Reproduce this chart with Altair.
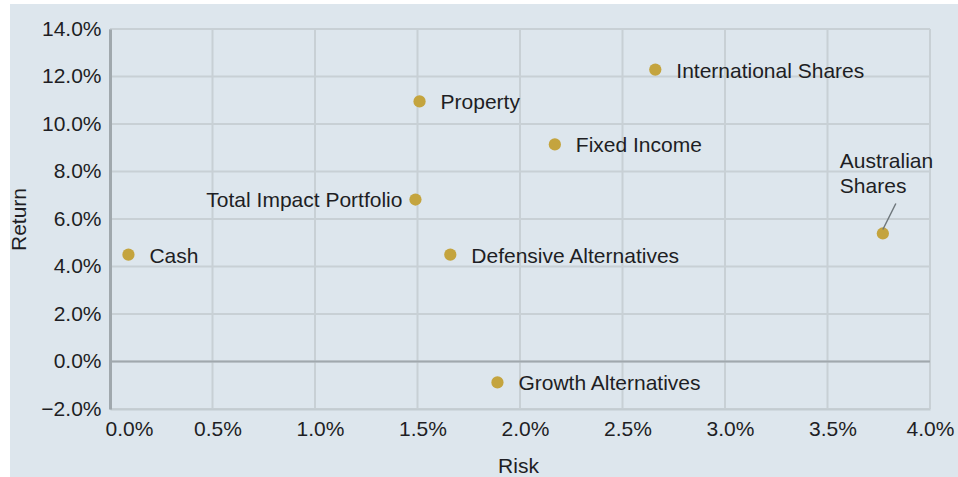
import altair as alt
import pandas as pd

# Data
names = ["Cash", "Total Impact Portfolio", "Property", "Defensive  Alternatives",
         "Growth Alternatives", "Fixed Income", "International Shares", "Australian Shares"]
risk = [0.0009, 0.0149, 0.0151, 0.0166, 0.0189, 0.0217, 0.0266, 0.0377]
ret = [0.045, 0.0682, 0.1095, 0.045, -0.0088, 0.0914, 0.1229, 0.0539]

x_ticks = [0.0, 0.005, 0.01, 0.015, 0.02, 0.025, 0.03, 0.035, 0.04]
y_ticks = [-0.02, 0.0, 0.02, 0.04, 0.06, 0.08, 0.10, 0.12, 0.14]

left_labelled = ["Total Impact Portfolio"]
two_line_labelled = ["Australian Shares"]

df = pd.DataFrame({"name": names, "risk": risk, "ret": ret})
xg = pd.DataFrame({"risk": x_ticks})
yg = pd.DataFrame({"ret": y_ticks})
one = pd.DataFrame({"k": [0]})

FONT = "Liberation Sans"
TXT = "#1e1e24"
DOT = "#c4a43e"
GRID = "#c8d0d5"

x_scale = alt.Scale(domain=[0, 0.04], nice=False, zero=False)
y_scale = alt.Scale(domain=[-0.02, 0.14], nice=False, zero=False)

x_axis = alt.Axis(
    values=x_ticks, format=".1%", title="Risk",
    labelFlush=False, labelOverlap=False, grid=False, zindex=2,
    labelOffset={"condition": [
        {"test": "datum.value == 0", "value": 19},
        {"test": "datum.value >= 0.0399", "value": 0}], "value": 5},
    titleX=408, titleY=57, titleBaseline="middle",
    domainColor="#c3ccd1", domainWidth=2,
)
y_axis = alt.Axis(
    values=y_ticks, format=".1%", title="Return",
    labelFlush=False, labelOverlap=False, grid=False, zindex=2,
    titleX=-91, titleY=190, titleBaseline="middle", titleAngle=-90,
    domainColor="#a0a8ad", domainWidth=3,
)

x_enc = alt.X("risk:Q", scale=x_scale, axis=x_axis)
y_enc = alt.Y("ret:Q", scale=y_scale, axis=y_axis)

# panel background (leaves the thin white page margin at left and top)
panel = alt.Chart(one).mark_rect(color="#dde6ed").encode(
    x=alt.value(-100), x2=alt.value(900), y=alt.value(-25), y2=alt.value(500)
)

vgrid = alt.Chart(xg).mark_rule(color=GRID, strokeWidth=2).encode(x=x_enc)
hgrid = alt.Chart(yg).mark_rule(color=GRID, strokeWidth=2).encode(y=y_enc)

zero = alt.Chart(one).mark_rule(color="#a0a8ad", strokeWidth=2).encode(
    y=alt.Y(datum=0, type="quantitative", scale=y_scale, axis=y_axis),
)

base = alt.Chart(df)

points = base.mark_circle(size=150, color=DOT, opacity=1).encode(x=x_enc, y=y_enc)

leader = base.transform_filter(
    alt.FieldOneOfPredicate(field="name", oneOf=two_line_labelled)
).mark_rule(color="#6f777c", strokeWidth=1.5, yOffset=-4, x2Offset=13, y2Offset=-30).encode(
    x=x_enc, y=y_enc, x2="risk:Q", y2="ret:Q"
)

right_text = base.transform_filter(
    ~alt.FieldOneOfPredicate(field="name", oneOf=left_labelled + two_line_labelled)
).mark_text(align="left", baseline="middle", dx=21, dy=2, font=FONT, fontSize=21, color=TXT).encode(
    x=x_enc, y=y_enc, text="name:N"
)

left_text = base.transform_filter(
    alt.FieldOneOfPredicate(field="name", oneOf=left_labelled)
).mark_text(align="right", baseline="middle", dx=-13, dy=1, font=FONT, fontSize=21, color=TXT).encode(
    x=x_enc, y=y_enc, text="name:N"
)

aus_text = base.transform_filter(
    alt.FieldOneOfPredicate(field="name", oneOf=two_line_labelled)
).transform_calculate(
    label="replace(datum.name, ' ', '\\n')"
).mark_text(align="left", baseline="alphabetic", dx=-43, dy=-65, lineBreak="\n", lineHeight=25,
            font=FONT, fontSize=21, color=TXT).encode(
    x=x_enc, y=y_enc, text="label:N"
)

chart = alt.layer(panel, vgrid, hgrid, zero, points, leader, right_text, left_text, aus_text).properties(
    width=820, height=380,
    background="#ffffff",
    padding={"left": 110, "top": 29, "right": 28, "bottom": 68},
    autosize=alt.AutoSizeParams(type="none"),
).configure_view(stroke=None).configure_axis(
    labelFont=FONT, labelFontSize=21, labelColor=TXT, labelPadding=9,
    titleFont=FONT, titleFontSize=21, titleColor=TXT, titleFontWeight="normal",
    ticks=False,
)

chart.save("out.html", embed_options={"renderer": "svg", "actions": False})
